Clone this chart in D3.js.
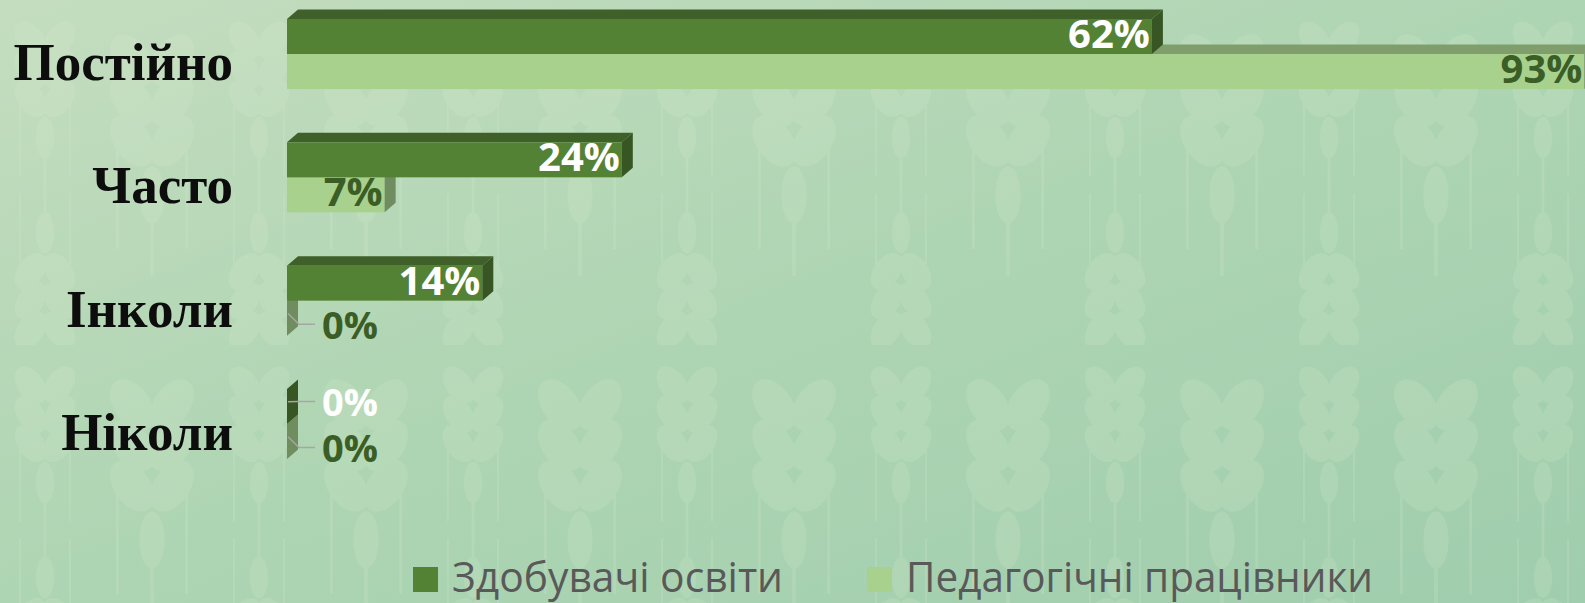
<!DOCTYPE html>
<html>
<head>
<meta charset="utf-8">
<script src="https://cdn.jsdelivr.net/npm/d3@7"></script>
<style>
	body { margin: 0; overflow: hidden; }
	svg { display: block; }
</style>
</head>
<body>
<div id="chartDiv"></div>
<script>
/*******************************************************************************

3D clustered bar chart: how often students / teachers do something.

*******************************************************************************/

// Data
var categories = ["Постійно", "Часто", "Інколи", "Ніколи"];
var seriesNames = ["Здобувачі освіти", "Педагогічні працівники"];
var studentValues = [62, 24, 14, 0];
var teacherValues = [93, 7, 0, 0];

// Colours per series: front, top, side, label
var seriesColors = [
	{ front: "#548235", top: "#3f6129", side: "#375623", label: "#ffffff" },
	{ front: "#a9d18e", top: "#7f9e6c", side: "#6f8d5e", label: "#3b5e26" }
];

// Display sizes
var width = 1585,
	height = 603;

// 3D depth offset
var depthX = 11,
	depthY = -9.5;

var svg = d3.select("#chartDiv").append("svg")
	.attr("width", width)
	.attr("height", height);

// Background gradient
var defs = svg.append("defs");
var grad = defs.append("linearGradient")
	.attr("id", "bg")
	.attr("x1", "0").attr("y1", "0")
	.attr("x2", "1").attr("y2", "1");
grad.append("stop").attr("offset", "0").attr("stop-color", "#c4ddbf");
grad.append("stop").attr("offset", "0.5").attr("stop-color", "#aed5b3");
grad.append("stop").attr("offset", "1").attr("stop-color", "#9fcdad");

// Faint wheat pattern
var pat = defs.append("pattern")
	.attr("id", "wheat")
	.attr("patternUnits", "userSpaceOnUse")
	.attr("width", 214)
	.attr("height", 345)
	.attr("x", 45)
	.attr("y", 0);

function wheatEar(g, cx, cy, s, flip) {
	var ear = g.append("g")
		.attr("transform", "translate(" + cx + "," + cy + ") scale(" + s + "," + (flip ? -s : s) + ")");
	[0, 45, 90].forEach(function(off) {
		ear.append("ellipse").attr("cx", -22).attr("cy", off).attr("rx", 20).attr("ry", 32)
			.attr("transform", "rotate(-35," + (-22) + "," + off + ")");
		ear.append("ellipse").attr("cx", 22).attr("cy", off).attr("rx", 20).attr("ry", 32)
			.attr("transform", "rotate(35,22," + off + ")");
	});
	ear.append("ellipse").attr("cx", 0).attr("cy", 150).attr("rx", 14).attr("ry", 32);
	ear.append("rect").attr("x", -2).attr("y", 150).attr("width", 4).attr("height", 90);
	ear.append("rect").attr("x", -40).attr("y", 100).attr("width", 3).attr("height", 110);
	ear.append("rect").attr("x", 37).attr("y", 100).attr("width", 3).attr("height", 110);
}

var patG = pat.append("g")
	.attr("fill", "#d6e9cc")
	.attr("opacity", 0.2);
wheatEar(patG, 107, 60, 0.9, false);
wheatEar(patG, 0, 40, 0.65, false);
wheatEar(patG, 214, 40, 0.65, false);
wheatEar(patG, 0, 330, 0.65, true);
wheatEar(patG, 214, 330, 0.65, true);

svg.append("rect")
	.attr("width", width)
	.attr("height", height)
	.attr("fill", "url(#bg)");
svg.append("rect")
	.attr("width", width)
	.attr("height", height)
	.attr("fill", "url(#wheat)");

// Scales
var x = d3.scaleLinear()
	.domain([0, 100])
	.range([287, 1682]);

var y = d3.scaleBand()
	.domain(categories)
	.range([19, 459])
	.paddingInner(0.432)
	.paddingOuter(0);

var ySeries = d3.scaleBand()
	.domain([0, 1])
	.range([0, y.bandwidth()]);

// Build rows
var rows = [];
categories.forEach(function(c, i) {
	// light series first so the dark bar sits on top of it
	[1, 0].forEach(function(s) {
		rows.push({
			category: c,
			series: s,
			value: s === 0 ? studentValues[i] : teacherValues[i]
		});
	});
});

// Category labels
svg.append("g")
	.attr("class", "categories")
	.selectAll("text")
	.data(categories)
	.enter().append("text")
		.attr("x", 233)
		.attr("y", function(d) { return y(d) + 61; })
		.attr("text-anchor", "end")
		.attr("font-family", "'Liberation Serif', 'Times New Roman', serif")
		.attr("font-weight", "bold")
		.attr("font-size", 53)
		.attr("fill", "#0d0d0d")
		.text(function(d) { return d; });

// Bars
var bar = svg.append("g")
	.attr("class", "bars")
	.selectAll("g")
	.data(rows)
	.enter().append("g");

function pts(a) {
	return a.map(function(p) { return p.join(","); }).join(" ");
}

bar.each(function(d) {
	var g = d3.select(this);
	var x0 = x(0),
		x1 = x(d.value),
		y0 = y(d.category) + ySeries(d.series),
		y1 = y0 + ySeries.bandwidth();
	var col = seriesColors[d.series];

	g.append("polygon")
		.attr("points", pts([[x0, y0], [x0 + depthX, y0 + depthY], [x1 + depthX, y0 + depthY], [x1, y0]]))
		.attr("fill", col.top);
	g.append("rect")
		.attr("x", x0)
		.attr("y", y0)
		.attr("width", x1 - x0)
		.attr("height", y1 - y0)
		.attr("fill", col.front);
	g.append("polygon")
		.attr("points", pts([[x1, y0], [x1 + depthX, y0 + depthY], [x1 + depthX, y1 + depthY], [x1, y1]]))
		.attr("fill", col.side);
});

// Value labels
var labels = svg.append("g").attr("class", "labels");

rows.forEach(function(d) {
	var y0 = y(d.category) + ySeries(d.series),
		yc = y0 + ySeries.bandwidth() / 2;
	var col = seriesColors[d.series];

	if (d.value > 0) {
		labels.append("text")
			.attr("x", x(d.value) - 2)
			.attr("y", yc - 3)
			.attr("dy", "0.36em")
			.attr("text-anchor", "end")
			.attr("font-family", "'Open Sans', 'Noto Sans', sans-serif")
			.attr("font-weight", "bold")
			.attr("font-size", 40)
			.attr("fill", col.label)
			.text(d.value + "%");
	} else {
		// zero bars get the label outside with a leader line
		var ly = yc + (d.series === 0 ? -4 : 7);
		var lx = x(0) + 35;
		labels.append("polyline")
			.attr("points", pts([[x(0) + 1, yc + depthY / 2], [x(0) + depthX + 1, ly - 1], [lx - 7, ly - 1]]))
			.attr("fill", "none")
			.attr("stroke", "#a6a6a6")
			.attr("stroke-width", 1.5);
		labels.append("text")
			.attr("x", lx)
			.attr("y", ly)
			.attr("dy", "0.36em")
			.attr("font-family", "'Open Sans', 'Noto Sans', sans-serif")
			.attr("font-weight", "bold")
			.attr("font-size", 38)
			.attr("fill", col.label)
			.text(d.value + "%");
	}
});

// Legend
var legendX = [413, 867],
	legendTextLen = [331, 467];

var legend = svg.append("g")
	.attr("class", "legend")
	.selectAll("g")
	.data(seriesNames)
	.enter().append("g")
		.attr("transform", function(d, i) { return "translate(" + legendX[i] + ",567)"; });

legend.append("rect")
	.attr("width", 25)
	.attr("height", 25)
	.attr("fill", function(d, i) { return seriesColors[i].front; });

legend.append("text")
	.attr("x", 39)
	.attr("y", 25)
	.attr("font-family", "'Open Sans', 'Noto Sans', sans-serif")
	.attr("font-size", 42)
	.attr("fill", "#595959")
	.attr("textLength", function(d, i) { return legendTextLen[i]; })
	.attr("lengthAdjust", "spacingAndGlyphs")
	.text(function(d) { return d; });

</script>
</body>
</html>
